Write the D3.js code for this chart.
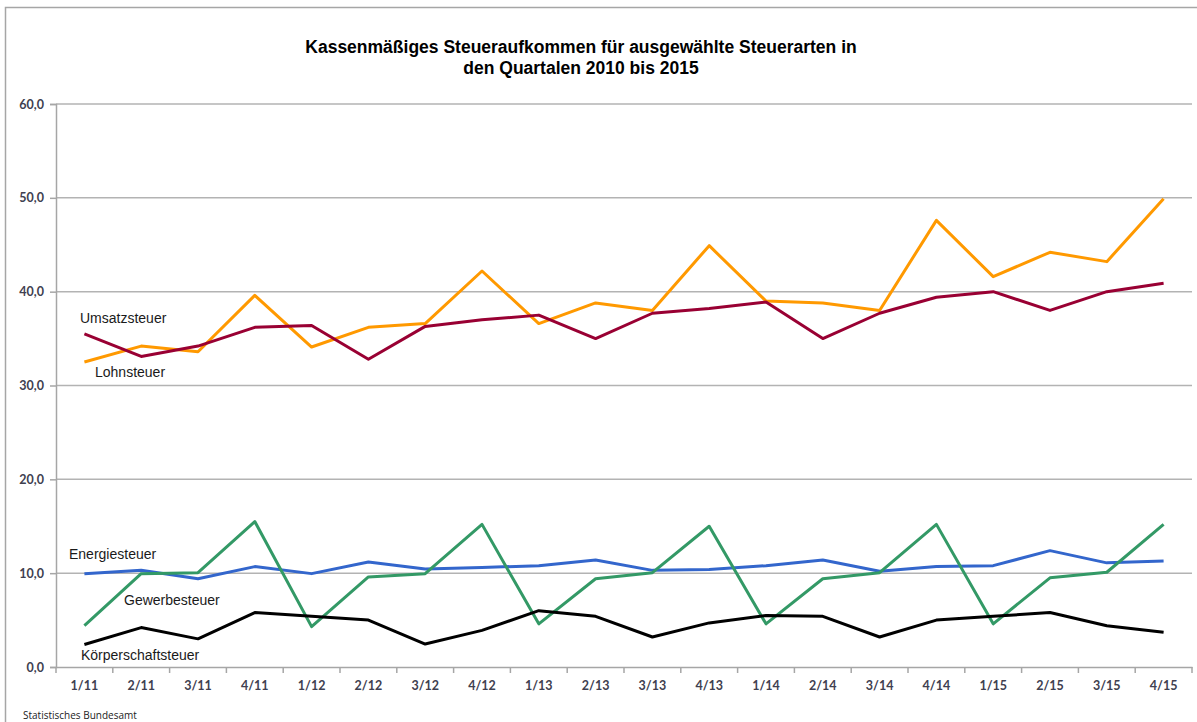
<!DOCTYPE html>
<html><head><meta charset="utf-8">
<script src="https://cdn.jsdelivr.net/npm/d3@7"></script>
<style>body{margin:0;background:#fff;} svg{display:block;}</style>
</head><body>
<svg id="c" width="1197" height="722"></svg>
<script>
const quarters = ["1/11","2/11","3/11","4/11","1/12","2/12","3/12","4/12","1/13","2/13","3/13","4/13","1/14","2/14","3/14","4/14","1/15","2/15","3/15","4/15"];
const lohnsteuer = [32.5,34.2,33.6,39.6,34.1,36.2,36.6,42.2,36.6,38.8,38.0,44.9,39.0,38.8,38.0,47.6,41.6,44.2,43.2,49.9];
const umsatzsteuer = [35.5,33.1,34.2,36.2,36.4,32.8,36.3,37.0,37.5,35.0,37.7,38.2,38.9,35.0,37.7,39.4,40.0,38.0,40.0,40.9];
const energiesteuer = [9.95,10.3,9.4,10.7,9.95,11.2,10.45,10.6,10.8,11.4,10.3,10.4,10.8,11.4,10.2,10.7,10.8,12.4,11.1,11.3];
const gewerbesteuer = [4.4,9.95,10.05,15.5,4.3,9.6,9.95,15.2,4.6,9.4,10.05,15.0,4.6,9.4,10.05,15.2,4.6,9.5,10.1,15.2];
const koerperschaftsteuer = [2.4,4.2,3.0,5.8,5.4,5.0,2.45,3.9,6.0,5.4,3.2,4.7,5.5,5.4,3.2,5.0,5.4,5.8,4.4,3.7];
const yTicks = [0,10,20,30,40,50,60];
const seriesNames = ["Lohnsteuer","Umsatzsteuer","Energiesteuer","Gewerbesteuer","Körperschaftsteuer"];
const seriesColors = ["#FF9900","#990033","#3366CC","#339966","#000000"];
const seriesValues = [lohnsteuer, umsatzsteuer, energiesteuer, gewerbesteuer, koerperschaftsteuer];

const svg = d3.select("#c");
// outer border
svg.append("path").attr("d","M5.5,722 L5.5,7.5 L1197,7.5").attr("fill","none").attr("stroke","#a6a6a6").attr("stroke-width",1.5);

const x = d3.scaleBand().domain(quarters).range([56,1192]);
const y = d3.scaleLinear().domain([0,60]).range([667,104]);

// gridlines
svg.append("g").selectAll("line").data(yTicks.filter(d=>d>0)).join("line")
  .attr("x1",56).attr("x2",1192).attr("y1",d=>y(d)).attr("y2",d=>y(d))
  .attr("stroke","#b3b3b3").attr("stroke-width",1.5);

// y axis
const yAxis = svg.append("g").attr("transform","translate(56,0)")
  .call(d3.axisLeft(y).tickValues(yTicks).tickSize(6).tickPadding(6).tickFormat(d=>d3.format(".1f")(d).replace(".",",")));
yAxis.select(".domain").attr("stroke","#a6a6a6").attr("stroke-width",1.5);
yAxis.selectAll(".tick line").attr("stroke","#a6a6a6").attr("stroke-width",1.5);
yAxis.selectAll("text").attr("font-family","Lato, 'Open Sans', sans-serif").attr("font-weight","700").attr("font-size","12.5px").attr("fill","#404050");

// x axis
const xAxis = svg.append("g").attr("transform","translate(0,667)")
  .call(d3.axisBottom(x).tickSize(0).tickPadding(14));
xAxis.select(".domain").attr("stroke","#a6a6a6").attr("stroke-width",1.5);
xAxis.selectAll("text").attr("font-family","Lato, 'Open Sans', sans-serif").attr("font-weight","700").attr("font-size","12.5px").attr("fill","#404050");
// boundary ticks
const bounds = quarters.map(q=>x(q)).concat([x.range()[1]]);
svg.append("g").selectAll("line").data(bounds).join("line")
  .attr("x1",d=>d).attr("x2",d=>d).attr("y1",667).attr("y2",673)
  .attr("stroke","#a6a6a6").attr("stroke-width",1.5);

// lines
const line = d3.line().x((d,i)=>x(quarters[i])+x.bandwidth()/2).y(d=>y(d));
svg.append("g").selectAll("path").data(seriesValues).join("path")
  .attr("d",d=>line(d)).attr("fill","none")
  .attr("stroke",(d,i)=>seriesColors[i]).attr("stroke-width",3).attr("stroke-linejoin","round");

// series labels
const labels = [
  {t:"Umsatzsteuer", x:80, y:323},
  {t:"Lohnsteuer", x:95, y:377},
  {t:"Energiesteuer", x:69, y:559},
  {t:"Gewerbesteuer", x:124, y:605},
  {t:"Körperschaftsteuer", x:81, y:660}
];
svg.append("g").selectAll("text").data(labels).join("text")
  .attr("x",d=>d.x).attr("y",d=>d.y).text(d=>d.t)
  .attr("font-family","'Liberation Sans', Arial, sans-serif").attr("font-size","14px").attr("fill","#1a1a1a");

// title
const title = svg.append("text").attr("text-anchor","middle")
  .attr("font-family","'Liberation Sans', Arial, sans-serif").attr("font-weight","700").attr("font-size","17.5px").attr("fill","#000");
title.append("tspan").attr("x",581).attr("y",53).text("Kassenmäßiges Steueraufkommen für ausgewählte Steuerarten in");
title.append("tspan").attr("x",581).attr("y",74).text("den Quartalen 2010 bis 2015");

// source
svg.append("text").attr("x",23).attr("y",719).text("Statistisches Bundesamt")
  .attr("font-family","'Open Sans', Lato, sans-serif").attr("font-size","10px").attr("fill","#222");
</script>
</body></html>
